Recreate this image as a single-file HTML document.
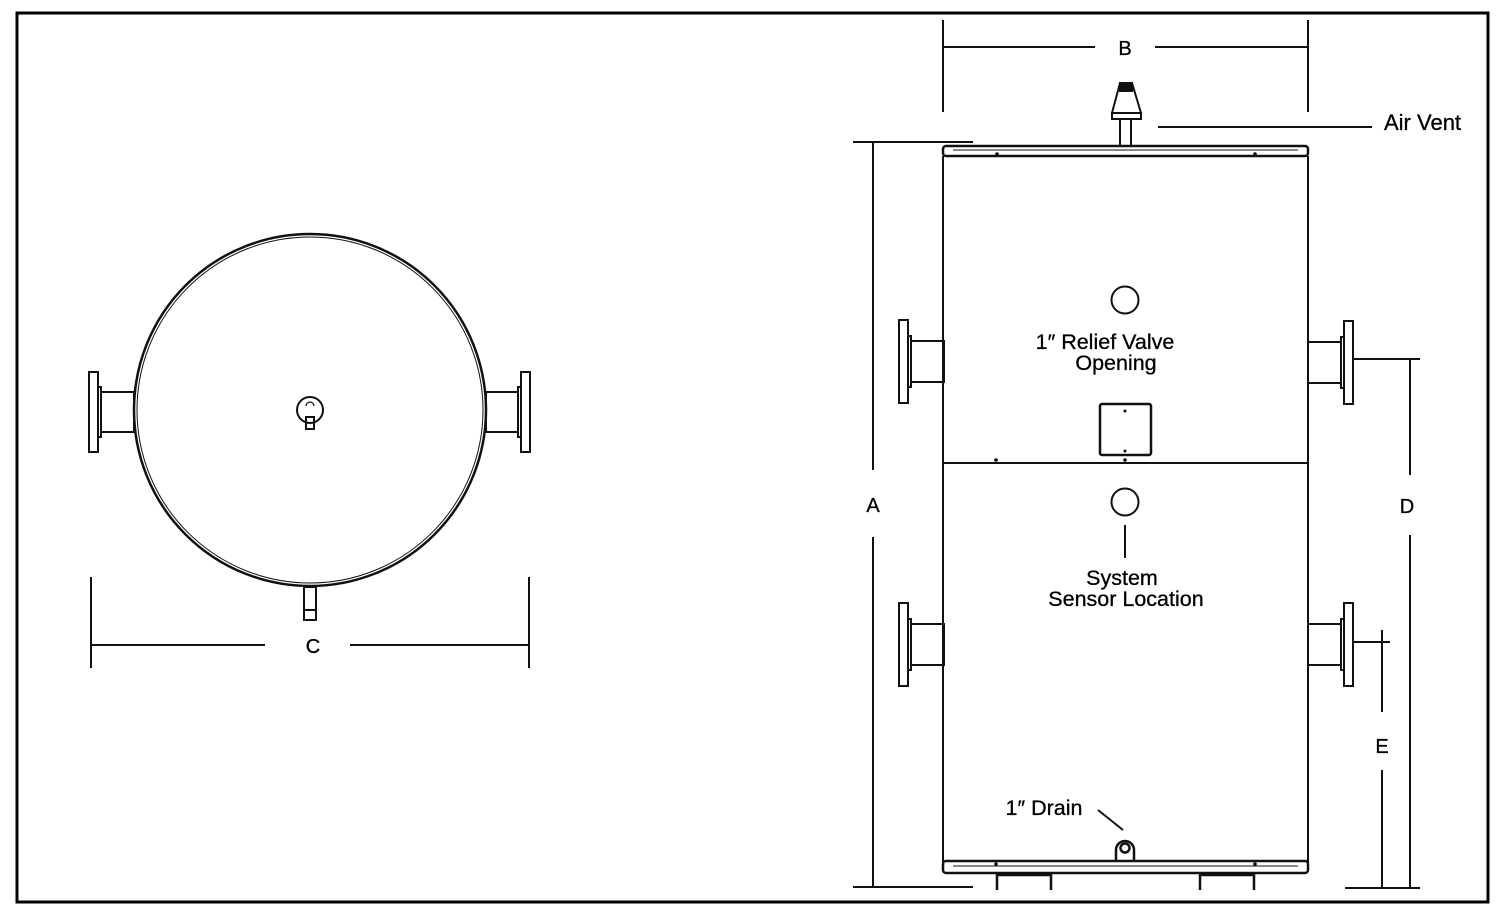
<!DOCTYPE html>
<html><head><meta charset="utf-8"><style>
html,body{margin:0;padding:0;background:#fff;}
svg{display:block;}
text{font-family:"Liberation Sans",sans-serif;fill:#000;}
</style></head><body>
<svg width="1505" height="911" viewBox="0 0 1505 911" xmlns="http://www.w3.org/2000/svg">
<rect x="17" y="13" width="1471" height="889" fill="#fff" stroke="#000" stroke-width="3"/>
<g fill="none" stroke="#111" stroke-width="2">
<circle cx="310" cy="410" r="176" stroke-width="2.5"/>
<circle cx="310" cy="410" r="173" stroke-width="1"/>
<rect x="89" y="372" width="9" height="80"/>
<rect x="98" y="387" width="3" height="50"/>
<rect x="101" y="392" width="33" height="40"/>
<rect x="521" y="372" width="9" height="80"/>
<rect x="518" y="387" width="3" height="50"/>
<rect x="486" y="392" width="32" height="40"/>
<circle cx="310" cy="410" r="13"/>
<rect x="306" y="417" width="8" height="12"/>
<path d="M306 406 a4 4 0 0 1 8 0" stroke-width="1.2"/>
<rect x="304" y="587" width="12" height="33"/>
<line x1="304" y1="610" x2="316" y2="610"/>
<line x1="91" y1="577" x2="91" y2="668"/>
<line x1="529" y1="577" x2="529" y2="668"/>
<line x1="91" y1="645" x2="265" y2="645"/>
<line x1="350" y1="645" x2="529" y2="645"/>
<rect x="943" y="146" width="365" height="10" rx="3" stroke-width="2.5"/>
<line x1="953" y1="150" x2="1298" y2="150" stroke-width="1"/>
<line x1="943" y1="156" x2="943" y2="862"/>
<line x1="1308" y1="156" x2="1308" y2="862"/>
<line x1="943" y1="463" x2="1308" y2="463"/>
<rect x="943" y="861" width="365" height="12" rx="3" stroke-width="2.5"/>
<line x1="953" y1="866" x2="1298" y2="866" stroke-width="1"/>
<path d="M997 890 V875 H1051 V890" stroke-width="2.5"/>
<path d="M1200 890 V875 H1254 V890" stroke-width="2.5"/>
<path d="M1120 83 H1132 L1141 113 H1112 Z" stroke-width="2"/>
<rect x="1120" y="83" width="12" height="8" fill="#111"/>
<rect x="1112" y="113" width="29" height="6"/>
<rect x="1120" y="119" width="11" height="27"/>
<rect x="899" y="320" width="9" height="83"/>
<rect x="908" y="336" width="3" height="51"/>
<rect x="911" y="341" width="33" height="41"/>
<rect x="899" y="603" width="9" height="83"/>
<rect x="908" y="619" width="3" height="51"/>
<rect x="911" y="624" width="33" height="41"/>
<rect x="1344" y="321" width="9" height="83"/>
<rect x="1341" y="337" width="3" height="51"/>
<rect x="1308" y="342" width="33" height="41"/>
<rect x="1344" y="603" width="9" height="83"/>
<rect x="1341" y="619" width="3" height="51"/>
<rect x="1308" y="624" width="33" height="41"/>
<circle cx="1125" cy="300" r="13.5"/>
<circle cx="1125" cy="502" r="13.5"/>
<line x1="1125" y1="525" x2="1125" y2="558"/>
<rect x="1100" y="404" width="51" height="51" rx="2" stroke-width="2.5"/>
<path d="M1116 860 V850 a9 9 0 0 1 18 0 V860" stroke-width="2.5"/>
<circle cx="1125" cy="848" r="4.5" stroke-width="2.5"/>
<line x1="1098" y1="810" x2="1123" y2="830"/>
<line x1="943" y1="20" x2="943" y2="112"/>
<line x1="1308" y1="20" x2="1308" y2="112"/>
<line x1="943" y1="47" x2="1095" y2="47"/>
<line x1="1155" y1="47" x2="1308" y2="47"/>
<line x1="1158" y1="127" x2="1372" y2="127"/>
<line x1="853" y1="142" x2="973" y2="142"/>
<line x1="853" y1="887" x2="973" y2="887"/>
<line x1="873" y1="142" x2="873" y2="470"/>
<line x1="873" y1="537" x2="873" y2="887"/>
<line x1="1353" y1="359" x2="1420" y2="359"/>
<line x1="1410" y1="359" x2="1410" y2="475"/>
<line x1="1410" y1="535" x2="1410" y2="888"/>
<line x1="1345" y1="888" x2="1420" y2="888"/>
<line x1="1353" y1="642" x2="1390" y2="642"/>
<line x1="1382" y1="630" x2="1382" y2="712"/>
<line x1="1382" y1="770" x2="1382" y2="888"/>
</g>
<g fill="#111">
<circle cx="997" cy="154" r="1.8"/><circle cx="1255" cy="154" r="1.8"/>
<circle cx="996" cy="460" r="1.8"/><circle cx="1125" cy="460" r="1.8"/>
<circle cx="996" cy="864" r="1.8"/><circle cx="1255" cy="864" r="1.8"/>
<circle cx="1125" cy="411" r="1.5"/><circle cx="1125" cy="451" r="1.5"/>
</g>
<g stroke="#000" stroke-width="0.3">
<text x="1125" y="55" font-size="20" text-anchor="middle">B</text>
<text x="1384" y="130" font-size="22">Air Vent</text>
<text x="873" y="512" font-size="20" text-anchor="middle">A</text>
<text x="1407" y="513" font-size="20" text-anchor="middle">D</text>
<text x="1382" y="753" font-size="20" text-anchor="middle">E</text>
<text x="313" y="653" font-size="20" text-anchor="middle">C</text>
<text x="1105" y="349" font-size="21.5" text-anchor="middle">1″ Relief Valve</text>
<text x="1116" y="370" font-size="21.5" text-anchor="middle">Opening</text>
<text x="1122" y="585" font-size="21.5" text-anchor="middle">System</text>
<text x="1126" y="606" font-size="21.5" text-anchor="middle">Sensor Location</text>
<text x="1044" y="815" font-size="21.5" text-anchor="middle">1″ Drain</text>
</g>
</svg>
</body></html>
